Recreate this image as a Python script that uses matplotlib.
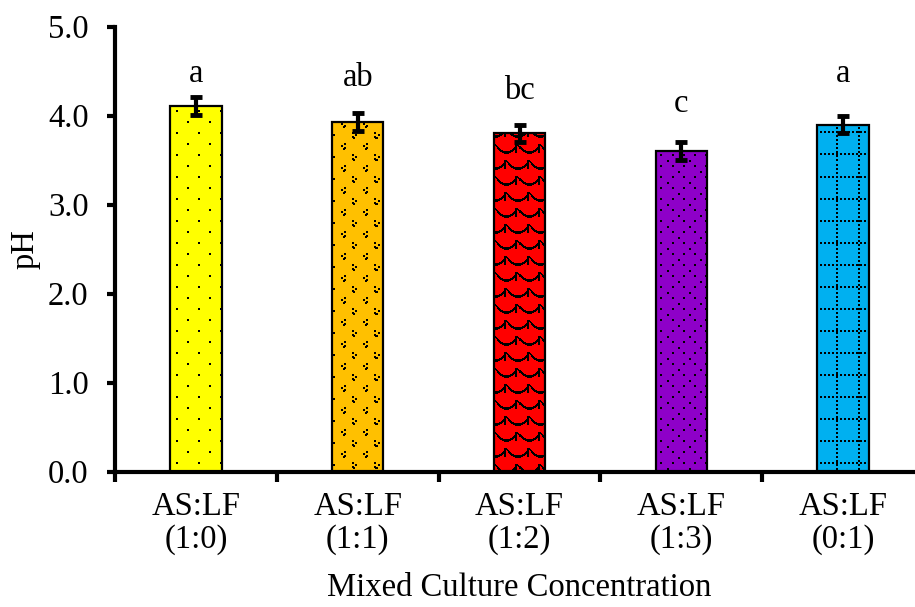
import numpy as np
import matplotlib
matplotlib.use("Agg")
import matplotlib.pyplot as plt
from matplotlib.ticker import FixedLocator, NullFormatter

# pH of the mixed cultures
ratios = ["(1:0)", "(1:1)", "(1:2)", "(1:3)", "(0:1)"]
tick_labels = ["AS:LF\n" + r for r in ratios]
ph_values = [4.11, 3.93, 3.80, 3.60, 3.90]
ph_err = [0.10, 0.10, 0.10, 0.10, 0.10]
letters = ["a", "ab", "bc", "c", "a"]
letter_y = [4.38, 4.33, 4.19, 4.04, 4.38]

colors = ["#FFFF00", "#FFC000", "#FF0000", "#8E00C8", "#00B0F0"]
patterns = ["sparse_dots", "weave", "scales", "dense_dots", "dotted_grid"]

W, H, DPI = 915, 607, 100
FONT = "Liberation Serif"
FS = 23.5

plt.rcParams["font.family"] = [FONT, "DejaVu Serif"]


def pattern_mask(kind, X, Y):
    """Boolean mask of the dark pixels of a fill pattern (X, Y in figure pixels)."""
    if kind == "sparse_dots":
        a = (X % 22 < 2) & (Y % 22 < 2)
        b = ((X + 11) % 22 < 2) & ((Y + 11) % 22 < 2)
        return a | b
    if kind == "dense_dots":
        a = (X % 11 < 2) & (Y % 11 < 2)
        b = ((X + 5) % 22 < 2) & ((Y + 5) % 22 < 2)
        c = ((X + 16) % 22 < 2) & ((Y + 16) % 22 < 2)
        return a | b | c
    if kind == "dotted_grid":
        v = (X % 22 < 2) & (Y % 4 < 2)
        h = (Y % 22 < 2) & (X % 4 < 2)
        return v | h
    if kind == "weave":
        m = np.zeros_like(X, dtype=bool)
        for ox, oy, pts in [(0, 0, [(0, 0), (3, 2), (0, 4), (1, 5)]),
                            (11, 11, [(3, 0), (0, 2), (3, 4), (2, 5)])]:
            lx = (X - ox) % 22
            ly = (Y - oy) % 22
            for px, py in pts:
                m |= (lx >= px) & (lx < px + 2) & (ly >= py) & (ly < py + 2)
        return m
    if kind == "scales":
        row = Y // 16
        lx = (X + (row % 2) * 11) % 22
        ly = Y % 16
        curve = 8.0 * np.sin(np.pi * lx / 22.0) ** 0.8
        arc = np.abs(ly - curve) < 1.3
        edge = (lx >= 20) & (ly <= 8)
        return arc | edge
    return np.zeros_like(X, dtype=bool)


fig = plt.figure(figsize=(W / DPI, H / DPI), dpi=DPI)
ax = fig.add_axes([115 / W, 1 - 471.7 / H, 809 / W, 445 / H])

x = np.arange(len(ph_values))
bar_w = 0.318
ax.set_xlim(-0.5, len(ph_values) - 0.5)
ax.set_ylim(0, 5)

bars = ax.bar(x, ph_values, width=bar_w, color=colors, edgecolor="none", zorder=1)

# fill patterns, rasterised on the figure pixel grid and clipped to each bar
for rect, col, kind in zip(bars, colors, patterns):
    x0, y0 = rect.get_x(), 0.0
    x1, y1 = x0 + rect.get_width(), rect.get_height()
    (dx0, dy0), (dx1, dy1) = ax.transData.transform([(x0, y0), (x1, y1)])
    px0, px1 = int(np.floor(dx0)), int(np.ceil(dx1))
    top, bot = int(np.floor(H - dy1)), int(np.ceil(H - dy0))
    X, Y = np.meshgrid(np.arange(px0, px1), np.arange(top, bot))
    mask = pattern_mask(kind, X, Y)
    rgb = np.array(matplotlib.colors.to_rgb(col))
    img = np.ones(mask.shape + (3,)) * rgb
    img[mask] = 0.0
    ex0, ey1 = ax.transData.inverted().transform((px0, H - top))
    ex1, ey0 = ax.transData.inverted().transform((px1, H - bot))
    im = ax.imshow(img, extent=(ex0, ex1, ey0, ey1), origin="upper",
                   interpolation="nearest", aspect="auto", zorder=2)
    im.set_clip_path(rect)

ax.bar(x, ph_values, width=bar_w, fill=False, edgecolor="black",
       linewidth=1.6, zorder=3)
ax.errorbar(x, ph_values, yerr=ph_err, fmt="none", ecolor="black",
            elinewidth=3, capsize=4.5, capthick=3.5, zorder=4)

for xi, yi, lab in zip(x, letter_y, letters):
    ax.text(xi, yi, lab, ha="center", va="baseline", fontsize=FS, family=FONT)

ax.set_xlim(-0.5, len(ph_values) - 0.5)
ax.set_ylim(0, 5)

for s in ["top", "right"]:
    ax.spines[s].set_visible(False)
for s in ["left", "bottom"]:
    ax.spines[s].set_linewidth(3)

ax.set_yticks(np.arange(0, 5.01, 1.0))
ax.set_yticklabels([f"{v:.1f}" for v in np.arange(0, 5.01, 1.0)])
ax.tick_params(axis="y", direction="out", length=6, width=3, pad=13,
               labelsize=FS)

ax.xaxis.set_major_locator(FixedLocator(np.arange(-0.5, len(ph_values), 1.0)))
ax.xaxis.set_major_formatter(NullFormatter())
ax.xaxis.set_minor_locator(FixedLocator(x))
ax.set_xticklabels(tick_labels, minor=True)
ax.tick_params(axis="x", which="major", direction="out", length=7, width=3)
ax.tick_params(axis="x", which="minor", length=0, pad=14, labelsize=FS)
for t in ax.get_xticklabels(minor=True):
    t.set_linespacing(1.12)

fig.text(25 / W, 1 - 249 / H, "pH", rotation=90, ha="center", va="center",
         fontsize=FS, family=FONT)
fig.text(519.5 / W, 1 - 596 / H, "Mixed Culture Concentration", ha="center",
         va="baseline", fontsize=FS, family=FONT)

fig.savefig("out.png", dpi=DPI)
